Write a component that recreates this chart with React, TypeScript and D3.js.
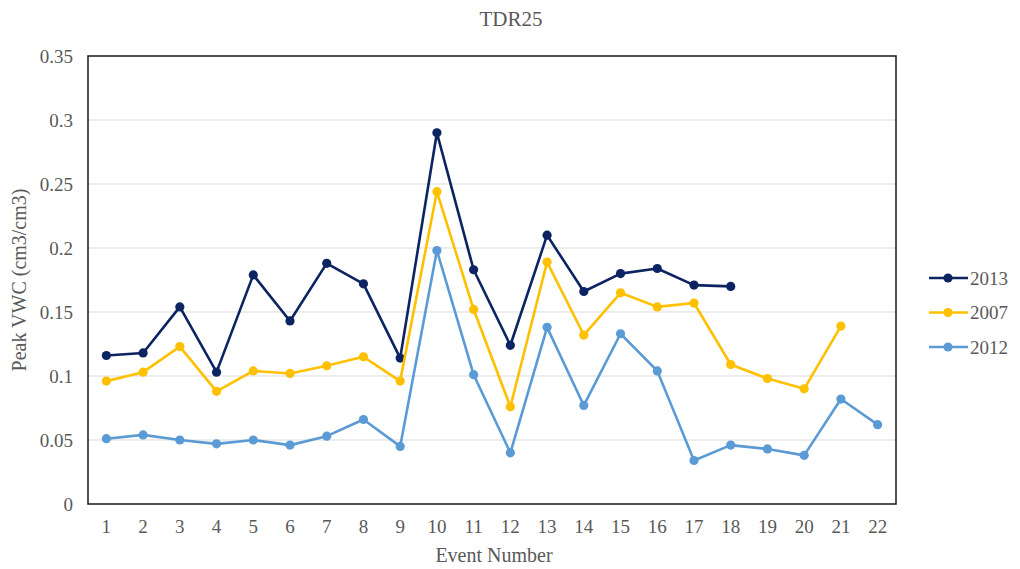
import { scaleBand, scaleLinear, line } from "d3";

const events = ["1","2","3","4","5","6","7","8","9","10","11","12","13","14","15","16","17","18","19","20","21","22"];

const vwc2013 = [0.116, 0.118, 0.154, 0.103, 0.179, 0.143, 0.188, 0.172, 0.114, 0.290, 0.183, 0.124, 0.210, 0.166, 0.180, 0.184, 0.171, 0.170];
const vwc2007 = [0.096, 0.103, 0.123, 0.088, 0.104, 0.102, 0.108, 0.115, 0.096, 0.244, 0.152, 0.076, 0.189, 0.132, 0.165, 0.154, 0.157, 0.109, 0.098, 0.090, 0.139];
const vwc2012 = [0.051, 0.054, 0.050, 0.047, 0.050, 0.046, 0.053, 0.066, 0.045, 0.198, 0.101, 0.040, 0.138, 0.077, 0.133, 0.104, 0.034, 0.046, 0.043, 0.038, 0.082, 0.062];

const yTicks = [0, 0.05, 0.1, 0.15, 0.2, 0.25, 0.3, 0.35];

const series = [
  { name: "2013", values: vwc2013, color: "#0c2461" },
  { name: "2007", values: vwc2007, color: "#ffc000" },
  { name: "2012", values: vwc2012, color: "#5b9bd5" },
];

const W = 1020;
const H = 569;
const m = { left: 88, right: 896, top: 56, bottom: 504 };
const font = "'Liberation Serif', 'Times New Roman', serif";

export default function App() {
  const x = scaleBand<string>().domain(events).range([m.left, m.right]);
  const y = scaleLinear().domain([0, 0.35]).range([m.bottom, m.top]);
  const cx = (i: number) => x(events[i])! + x.bandwidth() / 2;

  //line generator
  const path = line<number>()
    .x((_d, i) => cx(i))
    .y((d) => y(d));

  return (
    <svg width={W} height={H} style={{ position: "absolute", left: 0, top: 0, background: "#fff" }} fontFamily={font}>
      <text x={511} y={26} textAnchor="middle" fontSize={21} fill="#595959">TDR25</text>

      {/* gridlines */}
      {yTicks.map((t) => (
        <g key={t}>
          {t > 0 && t < 0.35 && (
            <line x1={m.left} x2={m.right} y1={y(t)} y2={y(t)} stroke="#d9d9d9" strokeWidth={1.2} />
          )}
          <text x={m.left - 15} y={y(t)} dy="0.35em" textAnchor="end" fontSize={19} fill="#595959">{t}</text>
        </g>
      ))}
      <rect x={m.left} y={m.top} width={m.right - m.left} height={m.bottom - m.top} fill="none" stroke="#262626" strokeWidth={1.6} />

      {events.map((e, i) => (
        <text key={e} x={cx(i)} y={m.bottom + 29} textAnchor="middle" fontSize={19} fill="#595959">{e}</text>
      ))}

      <text x={494} y={562} textAnchor="middle" fontSize={20} fill="#595959">Event Number</text>
      <text transform={`translate(26, ${(m.top + m.bottom) / 2}) rotate(-90)`} textAnchor="middle" fontSize={20} fill="#595959">Peak VWC (cm3/cm3)</text>

      {/* series */}
      {series.map((s) => (
        <g key={s.name}>
          <path d={path(s.values) ?? ""} fill="none" stroke={s.color} strokeWidth={2.6} strokeLinejoin="round" />
          {s.values.map((v, i) => (
            <circle key={i} cx={cx(i)} cy={y(v)} r={4.6} fill={s.color} />
          ))}
        </g>
      ))}

      {/* legend */}
      {series.map((s, i) => {
        const ly = 278 + i * 34.5;
        return (
          <g key={s.name}>
            <line x1={929} x2={968} y1={ly} y2={ly} stroke={s.color} strokeWidth={2.6} />
            <circle cx={948} cy={ly} r={4.6} fill={s.color} />
            <text x={970} y={ly} dy="0.35em" fontSize={19} fill="#595959">{s.name}</text>
          </g>
        );
      })}
    </svg>
  );
}
